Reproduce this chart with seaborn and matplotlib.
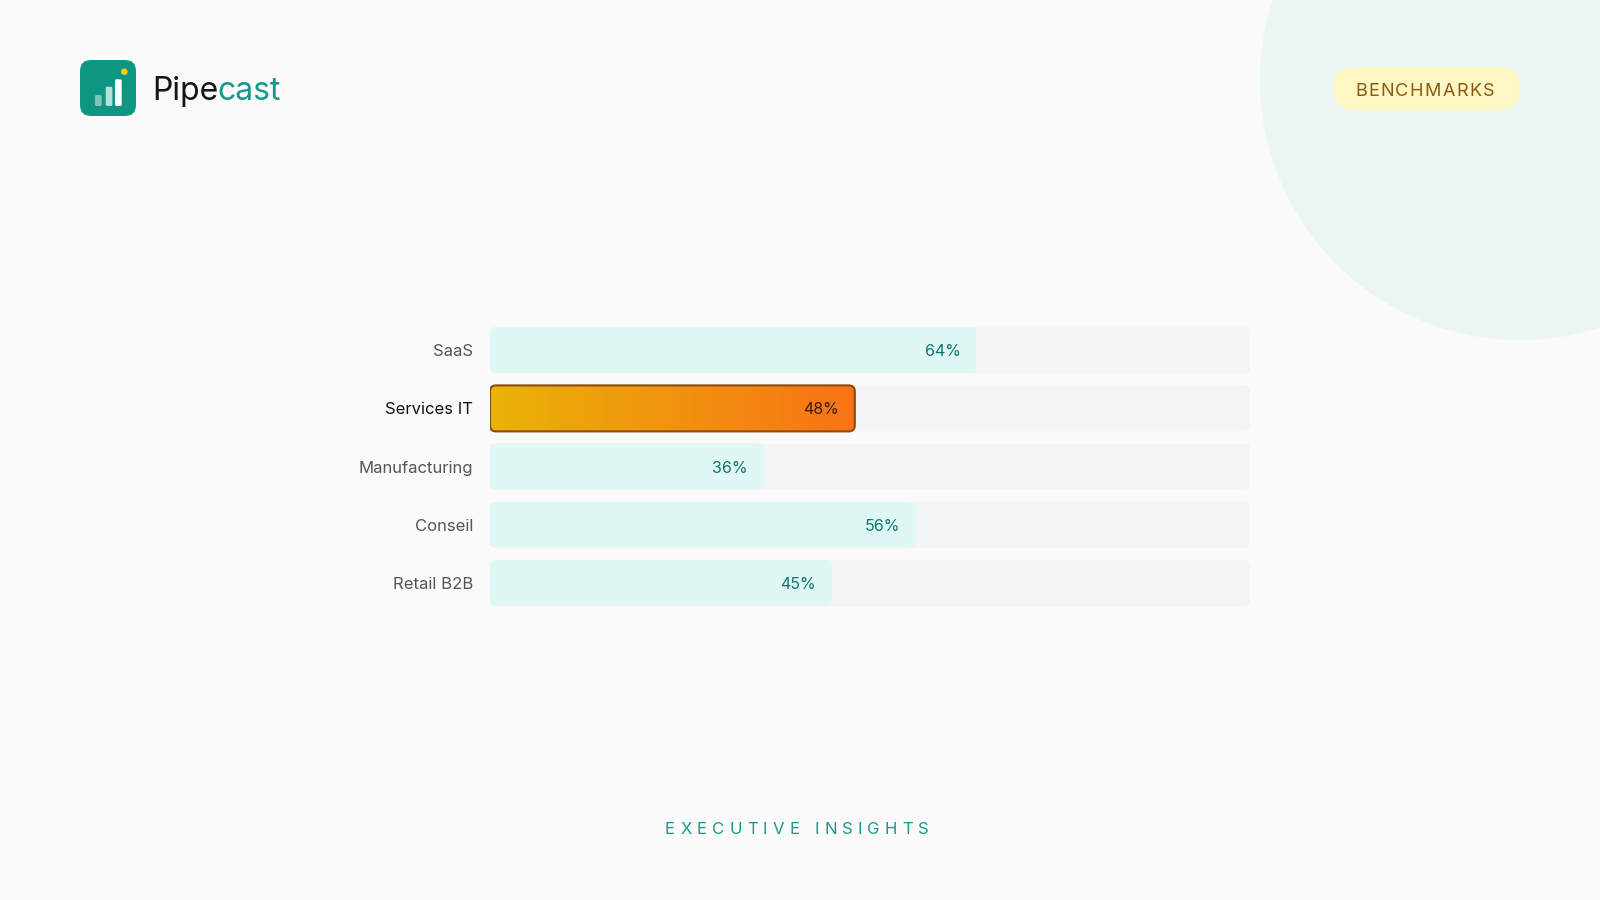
import numpy as np
import pandas as pd
import matplotlib
matplotlib.use("Agg")
import matplotlib.pyplot as plt
import seaborn as sns
from matplotlib.patches import FancyBboxPatch, Circle
from matplotlib.colors import LinearSegmentedColormap
from matplotlib.font_manager import FontProperties

# data
categories = ["SaaS", "Services IT", "Manufacturing", "Conseil", "Retail B2B"]
values = [64, 48, 36, 56, 45]
highlight = "Services IT"
track_max = 100

brand_left = "Pipe"
brand_right = "cast"
badge_label = "BENCHMARKS"
footer_label = "EXECUTIVE INSIGHTS"

FONT = "Inter"
BG = "#FAFAFA"
TEAL = "#0F9683"
MINT = "#E0F8F5"
TRACK = "#F3F4F6"

sns.set_style("white")
plt.rcParams["font.family"] = [FONT, "DejaVu Sans"]


def rounded(ax, x, y, w, h, radius_px, **kw):
    # rounded box in data units, corrected for the axes aspect
    bb = ax.get_window_extent()
    x0, x1 = ax.get_xlim()
    y0, y1 = ax.get_ylim()
    xpx = bb.width / abs(x1 - x0)
    ypx = bb.height / abs(y1 - y0)
    box = FancyBboxPatch((x, y), w, h,
                         boxstyle=f"round,pad=0,rounding_size={radius_px / xpx}",
                         mutation_aspect=xpx / ypx, **kw)
    ax.add_patch(box)
    return box


def round_bars(ax, patches, radius_px=6, zorder=1):
    out = []
    for p in patches:
        x, y, w, h = p.get_x(), p.get_y(), p.get_width(), p.get_height()
        fc = p.get_facecolor()
        p.remove()
        box = rounded(ax, x, y, w, h, radius_px, facecolor=fc, edgecolor="none",
                      linewidth=0, zorder=zorder)
        out.append((box, x, y, w, h))
    return out


def tracked_text(ax, renderer, x_left, x_right, y, s, size, color):
    # spread the letters between x_left and x_right (letter spacing)
    prop = FontProperties(family=FONT, size=size)
    widths = []
    for ch in s:
        if ch == " ":
            widths.append(None)
        else:
            w, _, _ = renderer.get_text_width_height_descent(ch, prop, ismath=False)
            widths.append(w)
    space = size * 100 / 72 * 0.28
    letters = sum(w for w in widths if w is not None)
    gap = (x_right - x_left - letters - widths.count(None) * space) / (len(s) - 1)
    x = x_left
    for ch, w in zip(s, widths):
        if w is None:
            x += space + gap
            continue
        ax.text(x, y, ch, fontproperties=prop, color=color, ha="left", va="baseline")
        x += w + gap


def draw_decor(fig, bg):
    renderer = fig.canvas.get_renderer()
    bg.set_xlim(0, 1600)
    bg.set_ylim(900, 0)
    bg.axis("off")

    # soft circle top right
    bg.add_patch(Circle((1520, 80), 260, facecolor="#EBF5F3", edgecolor="none"))

    # logo icon
    bg.add_patch(FancyBboxPatch((80, 60), 56, 56, boxstyle="round,pad=0,rounding_size=11",
                                facecolor=TEAL, edgecolor="none"))
    for (bx, top, a) in [(95, 95, 0.45), (105.7, 86.7, 0.7), (115, 79.3, 1.0)]:
        bg.add_patch(FancyBboxPatch((bx, top), 6.7, 106 - top,
                                    boxstyle="round,pad=0,rounding_size=1.5",
                                    facecolor="white", alpha=a, edgecolor="none"))
    bg.add_patch(Circle((124.3, 71.7), 3.3, facecolor="#FACC15", edgecolor="none"))

    t1 = bg.text(152, 100, brand_left, fontsize=23, color="#161616", va="baseline", ha="left")
    bb = t1.get_window_extent(renderer)
    bg.text(bb.x1 - 0.5, 100, brand_right, fontsize=23, color="#14998A", va="baseline", ha="left")

    # badge
    bg.add_patch(FancyBboxPatch((1333, 67), 187, 43, boxstyle="round,pad=0,rounding_size=21.5",
                                facecolor="#FEF7C3", edgecolor="none"))
    tracked_text(bg, renderer, 1355, 1494, 95.5, badge_label, 13, "#8A5A12")

    # footer
    tracked_text(bg, renderer, 665, 929, 834.5, footer_label, 12, "#14998A")


def draw_chart(fig, ax):
    ax.set_facecolor("none")
    sns.barplot(x=[track_max] * len(categories), y=categories, orient="h",
                color=TRACK, saturation=1, width=0.79, errorbar=None, ax=ax)
    ax.set_xlim(0, track_max)
    ax.set_ylim(len(categories) - 0.5, -0.5)
    round_bars(ax, list(ax.patches), zorder=1)

    n_before = len(ax.patches)
    palette = {c: ("#F59E0B" if c == highlight else MINT) for c in categories}
    sns.barplot(x=values, y=categories, hue=categories, palette=palette, orient="h",
                saturation=1, width=0.79, errorbar=None, legend=False, ax=ax)
    ax.set_xlim(0, track_max)
    ax.set_ylim(len(categories) - 0.5, -0.5)
    new = list(ax.patches)[n_before:]
    bars = round_bars(ax, new, zorder=2)

    cmap = LinearSegmentedColormap.from_list("hl", ["#EAB308", "#F97316"])
    for box, x, y, w, h in bars:
        idx = int(round(y + h / 2))
        if categories[idx] != highlight:
            continue
        box.set_facecolor("none")
        grad = np.linspace(0, 1, 256).reshape(1, -1)
        im = ax.imshow(grad, extent=(x, x + w, y + h, y), cmap=cmap, aspect="auto",
                       zorder=2.5, interpolation="bicubic")
        im.set_clip_path(box)
        rounded(ax, x, y, w, h, 6, facecolor="none", edgecolor="#8A4B0F",
                linewidth=1.5, zorder=3)
    ax.set_xlim(0, track_max)
    ax.set_ylim(len(categories) - 0.5, -0.5)
    ax.set_aspect("auto")

    xpx = ax.get_window_extent().width / track_max
    for i, (c, v) in enumerate(zip(categories, values)):
        col = "#3A1E08" if c == highlight else "#0F766E"
        ax.text(v - 16 / xpx, i, f"{v}%", ha="right", va="center_baseline",
                fontsize=11.5, color=col, zorder=4)

    sns.despine(ax=ax, left=True, bottom=True)
    ax.tick_params(axis="y", length=0, pad=12, labelsize=12)
    ax.tick_params(axis="x", bottom=False, labelbottom=False)
    for lab in ax.get_yticklabels():
        lab.set_color("#111111" if lab.get_text() == highlight else "#555555")
    ax.set_xlabel("")
    ax.set_ylabel("")


def main():
    fig = plt.figure(figsize=(16, 9), dpi=100, facecolor=BG)
    bg = fig.add_axes([0, 0, 1, 1], zorder=0)
    bg.set_facecolor(BG)
    ax = fig.add_axes([490 / 1600, 287.9 / 900, 760 / 1600, 291 / 900], zorder=1)
    draw_decor(fig, bg)
    draw_chart(fig, ax)
    fig.savefig("out.png", dpi=100, facecolor=BG)


if __name__ == "__main__":
    main()
